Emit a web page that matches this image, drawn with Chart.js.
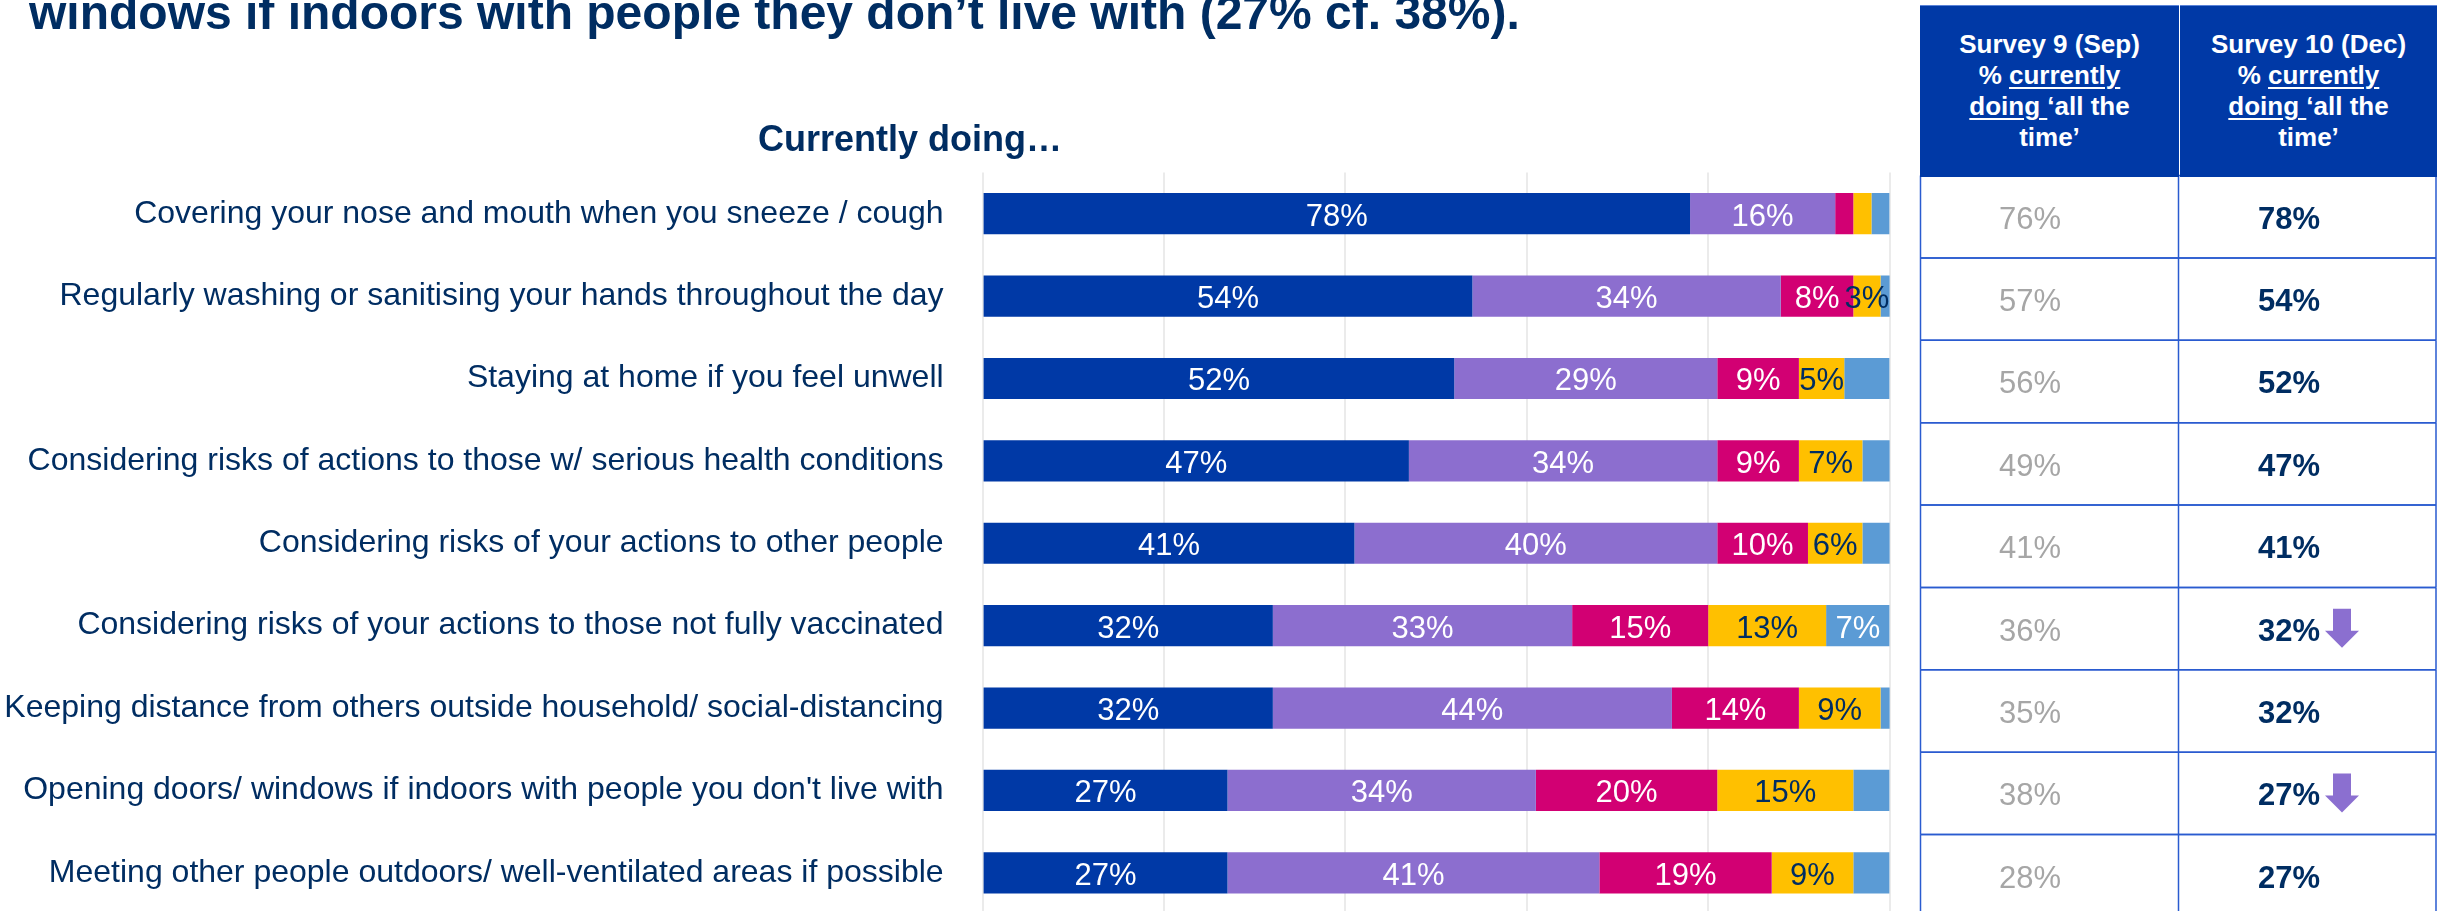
<!DOCTYPE html>
<html>
<head>
<meta charset="utf-8">
<script src="https://cdn.jsdelivr.net/npm/chart.js@4.4.0/dist/chart.umd.min.js"></script>
<style>
  html, body { margin: 0; padding: 0; background: #fff; overflow: hidden; width: 2437px; height: 911px; }
  #page { position: relative; width: 2437px; height: 911px; overflow: hidden; font-family: "Liberation Sans", Arial, sans-serif; }
  #wrap { position: absolute; left: 0; top: 0; width: 2437px; height: 920px; }
  .title { position: absolute; left: 29px; top: -10.6px; font-weight: bold; font-size: 48px; line-height: 48px; color: #002D62; white-space: nowrap; }
  .sub { position: absolute; left: 610px; width: 600px; top: 121px; text-align: center; font-weight: bold; font-size: 36px; line-height: 36px; color: #002D62; white-space: nowrap; }
  .hdr { position: absolute; top: 5px; height: 172px; box-sizing: border-box; border-top: 1px solid #5A83D8; background: #0039A6; color: #fff; font-weight: bold; font-size: 26px; line-height: 31px; text-align: center; padding-top: 23px; white-space: nowrap; }
  .hdr u { text-decoration-thickness: 2px; text-underline-offset: 3px; }
</style>
</head>
<body>
<div id="page">
  <div id="wrap"><canvas id="chart" width="2437" height="920"></canvas></div>
  <div class="title">windows if indoors with people they don’t live with (27% cf. 38%).</div>
  <div class="sub">Currently doing…</div>
  <div class="hdr" style="left:1920px;width:259px;">Survey 9 (Sep)<br>% <u>currently</u><br><u>doing </u>‘all the<br>time’</div>
  <div class="hdr" style="left:2180px;width:257px;">Survey 10 (Dec)<br>% <u>currently</u><br><u>doing </u>‘all the<br>time’</div>
</div>
<script>
// Behaviours asked about, top to bottom
const categories = [
  'Covering your nose and mouth when you sneeze / cough',
  'Regularly washing or sanitising your hands throughout the day',
  'Staying at home if you feel unwell',
  'Considering risks of actions to those w/ serious health conditions',
  'Considering risks of your actions to other people',
  'Considering risks of your actions to those not fully vaccinated',
  'Keeping distance from others outside household/ social-distancing',
  "Opening doors/ windows if indoors with people you don't live with",
  'Meeting other people outdoors/ well-ventilated areas if possible'
];

// Share of respondents (%) by frequency, Survey 10
const allTheTime   = [78, 54, 52, 47, 41, 32, 32, 27, 27];
const mostOfTime   = [16, 34, 29, 34, 40, 33, 44, 34, 41];
const someOfTime   = [2, 8, 9, 9, 10, 15, 14, 20, 19];
const rarely       = [2, 3, 5, 7, 6, 13, 9, 15, 9];
const never        = [2, 2, 5, 4, 4, 7, 2, 4, 4];

// 'All the time' in each survey wave
const survey9  = [76, 57, 56, 49, 41, 36, 35, 38, 28];
const survey10 = [78, 54, 52, 47, 41, 32, 32, 27, 27];
const significantDrop = [false, false, false, false, false, true, false, true, false];

const NAVY = '#002D62';
const FONT = '"Liberation Sans", Arial, sans-serif';
Chart.defaults.font.family = FONT;

// Percentage labels centred inside each bar segment
const segmentLabels = {
  id: 'segmentLabels',
  afterDatasetsDraw(chart) {
    const ctx = chart.ctx;
    ctx.save();
    ctx.font = '31px ' + FONT;
    ctx.textAlign = 'center';
    ctx.textBaseline = 'alphabetic';
    chart.data.datasets.forEach((ds, di) => {
      const meta = chart.getDatasetMeta(di);
      if (meta.hidden) return;
      meta.data.forEach((bar, i) => {
        const v = ds.data[i];
        if (v < ds.labelMin) return;
        const cx = (bar.x + bar.base) / 2;
        ctx.fillStyle = ds.labelColor;
        ctx.fillText(v + '%', cx, bar.y + 12);
      });
    });
    ctx.restore();
  }
};

// Comparison table on the right, one row per category
const surveyTable = {
  id: 'surveyTable',
  afterDraw(chart) {
    const ctx = chart.ctx;
    const y = chart.scales.y;
    const pitch = Math.abs(y.getPixelForValue(1) - y.getPixelForValue(0));
    const xL = 1920.5, xM = 2178.5, xR = 2436;
    ctx.save();
    ctx.strokeStyle = '#2A5BD0';
    ctx.lineWidth = 1.5;
    categories.forEach((c, i) => {
      const cy = y.getPixelForValue(i) + 3;
      const top = cy - pitch / 2, bot = cy + pitch / 2;
      ctx.beginPath();
      ctx.moveTo(xL, top); ctx.lineTo(xR, top);
      ctx.moveTo(xL, bot); ctx.lineTo(xR, bot);
      ctx.moveTo(xL, top); ctx.lineTo(xL, bot);
      ctx.moveTo(xM, top); ctx.lineTo(xM, bot);
      ctx.moveTo(xR, top); ctx.lineTo(xR, bot);
      ctx.stroke();

      ctx.textAlign = 'center';
      ctx.textBaseline = 'alphabetic';
      ctx.font = '31px ' + FONT;
      ctx.fillStyle = '#A6A6A6';
      ctx.fillText(survey9[i] + '%', 2030, cy + 12);
      ctx.font = 'bold 31px ' + FONT;
      ctx.fillStyle = NAVY;
      ctx.fillText(survey10[i] + '%', 2289, cy + 12);

      if (significantDrop[i]) {
        const ax = 2342, aTop = cy - 20, aHead = cy + 2, aTip = cy + 19;
        ctx.fillStyle = '#8B6FD0';
        ctx.beginPath();
        ctx.moveTo(ax - 9, aTop);
        ctx.lineTo(ax + 9, aTop);
        ctx.lineTo(ax + 9, aHead);
        ctx.lineTo(ax + 17, aHead);
        ctx.lineTo(ax, aTip);
        ctx.lineTo(ax - 17, aHead);
        ctx.lineTo(ax - 9, aHead);
        ctx.closePath();
        ctx.fill();
      }
    });
    ctx.restore();
  }
};

new Chart(document.getElementById('chart'), {
  type: 'bar',
  data: {
    labels: categories,
    datasets: [
      { label: 'All the time',     data: allTheTime, backgroundColor: '#0039A6', labelColor: '#FFFFFF', labelMin: 3 },
      { label: 'Most of the time', data: mostOfTime, backgroundColor: '#8C6ECF', labelColor: '#FFFFFF', labelMin: 3 },
      { label: 'Some of the time', data: someOfTime, backgroundColor: '#D20073', labelColor: '#FFFFFF', labelMin: 3 },
      { label: 'Rarely',           data: rarely,     backgroundColor: '#FFC000', labelColor: NAVY,      labelMin: 3 },
      { label: 'Never',            data: never,      backgroundColor: '#5B9BD5', labelColor: '#FFFFFF', labelMin: 6 }
    ]
  },
  options: {
    indexAxis: 'y',
    responsive: false,
    animation: false,
    events: [],
    datasets: { bar: { categoryPercentage: 1, barPercentage: 0.5, borderWidth: 0, clip: 0 } },
    layout: { padding: { top: 172.5, right: 547.4, bottom: 6, left: 0 } },
    plugins: { legend: { display: false }, tooltip: { enabled: false }, title: { display: false } },
    scales: {
      x: {
        stacked: true,
        min: 0,
        max: 100,
        ticks: { display: false, stepSize: 20 },
        grid: { color: '#EBEBEB', lineWidth: 2, drawTicks: false },
        border: { display: false },
        afterFit(scale) { scale.height = 0; }
      },
      y: {
        stacked: true,
        grid: { display: false, drawTicks: false },
        border: { display: false },
        ticks: { font: { size: 32 }, color: NAVY, padding: 39, autoSkip: false },
        afterFit(scale) {
          scale.width = 982.6;
          // label gap should not reserve extra room above/below the bars
          scale.paddingTop = 0;
          scale.paddingBottom = 0;
        }
      }
    }
  },
  plugins: [segmentLabels, surveyTable]
});
</script>
</body>
</html>
